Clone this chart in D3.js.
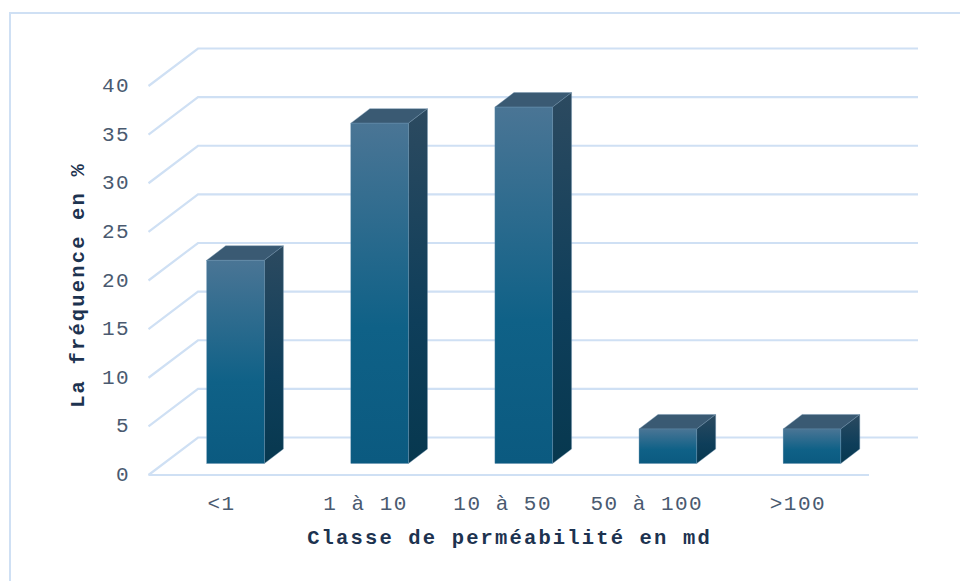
<!DOCTYPE html>
<html><head><meta charset="utf-8">
<script src="https://cdn.jsdelivr.net/npm/d3@7"></script>
<style>html,body{margin:0;background:#fff}svg{display:block}text{white-space:pre}</style></head>
<body><svg id="c" width="960" height="581"></svg>
<script>
const categories = ["<1","1 à 10","10 à 50 ","50 à 100 ",">100"];
const values = [20.9,35,36.65,3.55,3.55];
const yTicks = [0,5,10,15,20,25,30,35,40];
const xTitle = "Classe de perméabilité en md";
const yTitle = "La fréquence en %";

const svg = d3.select("#c");
const gridCol="#cfe0f4", ink="#4a5a70", dark="#1d3350", font="'Liberation Mono','Courier New',monospace";
const y = d3.scaleLinear().domain([0,40]).range([475,86]);
const x = d3.scaleBand().domain(categories).range([163.5,884]).paddingInner(0.6).paddingOuter(0.3);
const dx=49.5, dy=-37.5, bx=19, by=-14.5, bo=-11.5;

svg.append("path").attr("fill","none").attr("stroke",gridCol).attr("stroke-width",2)
  .attr("d",d3.line()([[10,581],[10,13],[960,13]]));

const defs=svg.append("defs");
const grad=(id,stops)=>{const g=defs.append("linearGradient").attr("id",id).attr("x1",0).attr("y1",0).attr("x2",0).attr("y2",1);
  stops.forEach(s=>g.append("stop").attr("offset",s[0]).attr("stop-color",s[1]));};
grad("front",[[0,"#4a7595"],[0.6,"#0f6187"],[1,"#0b5a80"]]);
grad("side",[[0,"#2c4a60"],[0.6,"#0e3e5a"],[1,"#07384f"]]);
grad("top",[[0,"#3a5a73"],[1,"#3a5a73"]]);

const grid=svg.append("g").attr("fill","none").attr("stroke",gridCol).attr("stroke-width",2.2);
grid.selectAll("path").data(yTicks).join("path")
  .attr("d",v=>{const p=d3.path();const Y=y(v);p.moveTo(148.5,Y);p.lineTo(148.5+dx,Y+dy);p.lineTo(918,Y+dy);return p.toString();});
grid.append("line").attr("x1",148.5).attr("x2",869).attr("y1",y(0)).attr("y2",y(0));

const bars=svg.append("g").selectAll("g").data(categories.map((c,i)=>({c,v:values[i]}))).join("g");
const x0=d=>x(d.c), x1=d=>x(d.c)+x.bandwidth(), base=y(0)+bo, topY=d=>y(d.v)+bo;
const poly=f=>d=>d3.line()(f(d))+"Z";
bars.append("path").attr("fill","url(#top)").attr("stroke","#6f93ae").attr("stroke-width",.4)
  .attr("d",poly(d=>[[x0(d),topY(d)],[x0(d)+bx,topY(d)+by],[x1(d)+bx,topY(d)+by],[x1(d),topY(d)]]));
bars.append("path").attr("fill","url(#side)").attr("stroke","#6f93ae").attr("stroke-width",.4)
  .attr("d",poly(d=>[[x1(d),topY(d)],[x1(d)+bx,topY(d)+by],[x1(d)+bx,base+by],[x1(d),base]]));
bars.append("rect").attr("fill","url(#front)").attr("stroke","#5f8cab").attr("stroke-width",.4)
  .attr("x",x0).attr("y",topY).attr("width",x.bandwidth()).attr("height",d=>base-topY(d));

const tx=svg.append("g").attr("font-family",font);
tx.selectAll("text.y").data(yTicks).join("text").attr("class","y")
  .attr("x",130).attr("y",d=>y(d)+6).attr("text-anchor","end")
  .attr("font-size",21).attr("letter-spacing",1.4).attr("fill",ink).text(d=>d);
tx.selectAll("text.x").data(categories).join("text").attr("class","x")
  .attr("x",d=>x(d)+x.bandwidth()/2-14).attr("y",510).attr("text-anchor","middle")
  .attr("font-size",21).attr("letter-spacing",1.5).attr("fill",ink).text(d=>d);
tx.append("text").attr("x",509.5).attr("y",544).attr("text-anchor","middle")
  .attr("font-size",20.5).attr("font-weight","bold").attr("letter-spacing",2.15).attr("fill",dark).text(xTitle);
tx.append("text").attr("transform","translate(84,285) rotate(-90)").attr("text-anchor","middle")
  .attr("font-size",20.5).attr("font-weight","bold").attr("letter-spacing",2.15).attr("fill",dark).text(yTitle);
</script></body></html>
